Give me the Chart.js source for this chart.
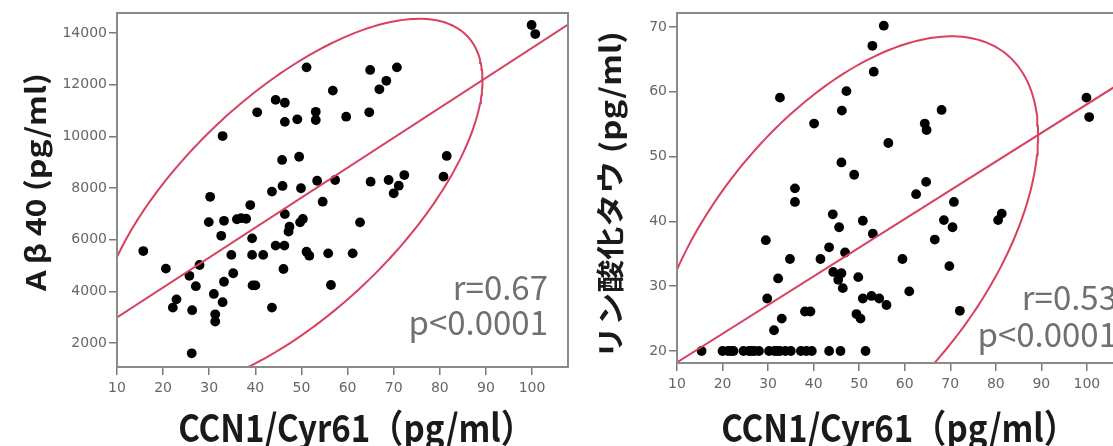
<!DOCTYPE html>
<html>
<head>
<meta charset="utf-8">
<script src="https://cdn.jsdelivr.net/npm/chart.js@4/dist/chart.umd.min.js"></script>
<style>
html,body{margin:0;padding:0;background:#fff;overflow:hidden;width:1113px;height:446px;position:relative}
#c1{position:absolute;left:0;top:0}
#c2{position:absolute;left:575px;top:0}
</style>
</head>
<body>
<canvas id="c1" width="575" height="446"></canvas>
<canvas id="c2" width="585" height="446"></canvas>
<script>
// ---- data ----
const leftX = [15.7,20.6,25.7,27.9,27.1,22.9,22.1,26.3,26.2,31.0,32.9,31.3,31.3,33.2,35.2,34.8,32.6,29.9,33.2,30.2,
  36.0,38.0,36.9,38.9,39.3,39.3,41.7,39.4,40.0,43.6,32.9,40.4,44.4,46.4,46.4,49.1,51.1,53.1,53.1,56.8,
  45.8,49.5,43.6,45.9,49.9,53.4,57.3,46.4,47.4,47.2,50.3,49.7,54.6,44.4,46.3,46.1,51.1,51.7,55.8,56.4,
  64.9,70.7,68.4,66.9,59.7,64.7,99.9,100.7,65.0,68.9,72.3,71.1,70.0,81.5,80.8,62.7,61.1];
const leftY = [5560,4880,4600,5020,4200,3690,3370,3270,1600,3900,3580,3110,2830,4370,4700,5410,6150,6680,6730,7660,
  6790,6810,6830,7340,6050,5410,5410,4230,4230,3370,10010,10930,11410,11300,10560,10660,12670,10950,10630,11770,
  9085,9210,7860,8080,7990,8280,8310,6990,6500,6310,6800,6670,7470,5770,5770,4865,5535,5380,5470,4245,
  12570,12670,12150,11820,10760,10930,14310,13960,8245,8310,8500,8090,7795,9240,8440,6670,5470];

const rightX = [15.4,20.0,21.2,21.8,22.4,24.6,25.8,26.4,27.0,28.0,30.2,31.4,32.0,32.6,33.8,35.0,37.2,38.4,39.6,43.4,45.9,51.4,
  32.6,40.1,47.2,46.2,52.9,55.4,53.2,56.4,46.1,48.9,35.9,35.9,44.2,45.6,50.8,53.0,29.5,43.4,34.8,41.5,
  46.9,44.3,46.1,45.4,46.4,49.8,32.2,29.8,33.0,31.3,38.1,39.3,49.4,50.3,50.8,52.7,54.4,56.0,
  68.1,64.4,64.8,64.7,62.5,70.8,68.6,70.5,66.6,80.5,81.3,59.5,69.8,61.0,72.1,99.9,100.5];
const rightY = [20,20,20,20,20,20,20,20,20,20,20,20,20,20,20,20,20,20,20,20,20,20,
  59.1,55.1,60.1,57.1,67.1,70.2,63.1,52.1,49.1,47.2,45.1,43.0,41.1,39.1,40.1,38.1,37.1,36.0,34.2,34.2,
  35.2,32.2,32.0,31.0,29.7,31.4,31.2,28.1,25.0,23.2,26.1,26.1,25.7,25.0,28.1,28.5,28.1,27.1,
  57.2,55.1,54.1,46.1,44.2,43.0,40.2,39.1,37.2,40.2,41.2,34.2,33.1,29.2,26.2,59.1,56.1];

const xTicks = [10,20,30,40,50,60,70,80,90,100];
const leftYTicks = [2000,4000,6000,8000,10000,12000,14000];
const rightYTicks = [20,30,40,50,60,70];
const leftStats = ['r=0.67','p<0.0001'];
const rightStats = ['r=0.53','p<0.0001'];
const xTitle = 'CCN1/Cyr61（pg/ml）';
const leftYTitle = 'A\u2009β\u200940 (pg/ml)';
const rightYTitle = 'リン酸化タウ (pg/ml)';

const RED = '#d8405e';

function toPts(xs, ys){ return xs.map((x,i)=>({x:x, y:ys[i]})); }
function stats(xs, ys){
  const n = xs.length;
  const mx = xs.reduce((a,b)=>a+b,0)/n, my = ys.reduce((a,b)=>a+b,0)/n;
  let sxx=0, syy=0, sxy=0;
  for(let i=0;i<n;i++){ const dx=xs[i]-mx, dy=ys[i]-my; sxx+=dx*dx; syy+=dy*dy; sxy+=dx*dy; }
  return {mx,my,sxx:sxx/(n-1),syy:syy/(n-1),sxy:sxy/(n-1)};
}
function regLine(xs, ys, x0, x1){
  const s = stats(xs, ys);
  const b = s.sxy/s.sxx, a = s.my - b*s.mx;
  return [{x:x0,y:a+b*x0},{x:x1,y:a+b*x1}];
}
function ellipse(xs, ys){
  const s = stats(xs, ys);
  const k = Math.sqrt(5.991);
  const L11 = Math.sqrt(s.sxx), L21 = s.sxy/L11, L22 = Math.sqrt(s.syy - L21*L21);
  const pts = [];
  for(let i=0;i<=240;i++){
    const t = i/240*2*Math.PI, c=Math.cos(t), sn=Math.sin(t);
    pts.push({x: s.mx + k*L11*c, y: s.my + k*(L21*c + L22*sn)});
  }
  return pts;
}

const decor = {
  id:'decor',
  afterDraw(chart, args, o){
    const {ctx, chartArea:a} = chart;
    ctx.save();
    ctx.strokeStyle = '#8a8a8a'; ctx.lineWidth = 2;
    ctx.strokeRect(a.left, a.top, a.right-a.left, a.bottom-a.top);
    ctx.fillStyle = '#1a1a1a';
    // y title
    ctx.save();
    ctx.translate(o.yt[0], o.yt[1]);
    ctx.scale(o.sx, 1);
    ctx.rotate(-Math.PI/2);
    ctx.font = 'bold ' + o.ytSize + 'px "Noto Sans CJK JP"';
    ctx.textAlign = 'center'; ctx.textBaseline = 'middle';
    ctx.fillText(o.yTitle, 0, 0);
    ctx.restore();
    // x title
    ctx.save();
    ctx.translate(o.xt[0], o.xt[1]);
    ctx.scale(o.sxx, 1);
    ctx.font = 'bold ' + o.xtSize + 'px "Noto Sans CJK JP"';
    ctx.textAlign = 'center'; ctx.textBaseline = 'middle';
    ctx.fillText(o.xTitle, 0, 0);
    ctx.restore();
    // stats
    ctx.fillStyle = '#707070';
    ctx.font = '400 ' + o.stSize + 'px "Noto Sans CJK JP"';
    ctx.textAlign = 'right'; ctx.textBaseline = 'alphabetic';
    o.stats.forEach((t,i)=>{
      ctx.save();
      ctx.translate(o.st[0], o.st[1] + i*o.stGap);
      ctx.scale(o.sx2, 1);
      ctx.fillText(t, 0, 0);
      ctx.restore();
    });
    ctx.restore();
  }
};

function makeChart(id, xs, ys, cfg){
  const scatter = toPts(xs, ys);
  const tickFont = {family:'DejaVu Sans', size:14};
  return new Chart(document.getElementById(id), {
    type:'scatter',
    data:{datasets:[
      {data: ellipse(xs, ys), showLine:true, pointRadius:0, borderColor:RED, borderWidth:2, fill:false, order:0, tension:0},
      {data: regLine(xs, ys, cfg.xmin, cfg.xmax), showLine:true, pointRadius:0, borderColor:RED, borderWidth:2, fill:false, order:0},
      {data: scatter, pointRadius:4.9, pointHoverRadius:4.9, backgroundColor:'#000', borderWidth:0, order:1}
    ]},
    options:{
      responsive:false, animation:false, devicePixelRatio:1,
      layout:{padding:{left:0, right:cfg.padR, top:cfg.padT, bottom:0}},
      plugins:{legend:{display:false}, tooltip:{enabled:false}, decor:cfg.decor},
      scales:{
        x:{type:'linear', min:cfg.xmin, max:cfg.xmax,
          afterBuildTicks: s => { s.ticks = xTicks.map(v=>({value:v})); },
          afterFit: s => { s.height = cfg.xh; },
          grid:{drawOnChartArea:false, drawTicks:true, tickLength:8, color:'#7a7a7a', lineWidth:1.5},
          border:{display:false},
          ticks:{padding:5, color:'#666', font:tickFont, maxRotation:0, autoSkip:false, callback:v=>String(v)}
        },
        y:{type:'linear', min:cfg.ymin, max:cfg.ymax,
          afterBuildTicks: s => { s.ticks = cfg.yTicks.map(v=>({value:v})); },
          afterFit: s => { s.width = cfg.yw; },
          grid:{drawOnChartArea:false, drawTicks:true, tickLength:8, color:'#7a7a7a', lineWidth:1.5},
          border:{display:false},
          ticks:{padding:2, color:'#666', font:tickFont, autoSkip:false, callback:v=>String(v)}
        }
      }
    },
    plugins:[decor]
  });
}

makeChart('c1', leftX, leftY, {
  xmin:10, xmax:107.8, ymin:1071, ymax:14774, yTicks:leftYTicks,
  padR:7, padT:13, xh:79, yw:117,
  decor:{yTitle:leftYTitle, xTitle:xTitle, yt:[36,182], xt:[356,428], ytSize:32, xtSize:38, sx:0.85, sxx:0.87, sx2:1.0,
    stats:leftStats, st:[548,300], stGap:35, stSize:33}
});
makeChart('c2', rightX, rightY, {
  xmin:10, xmax:111, ymin:18.15, ymax:72.16, yTicks:rightYTicks,
  padR:23, padT:13, xh:83, yw:102,
  decor:{yTitle:rightYTitle, xTitle:xTitle, yt:[35,195], xt:[324,428], ytSize:33, xtSize:38, sx:0.85, sxx:0.87, sx2:1.0,
    stats:rightStats, st:[542,310], stGap:37, stSize:33}
});
</script>
</body>
</html>
